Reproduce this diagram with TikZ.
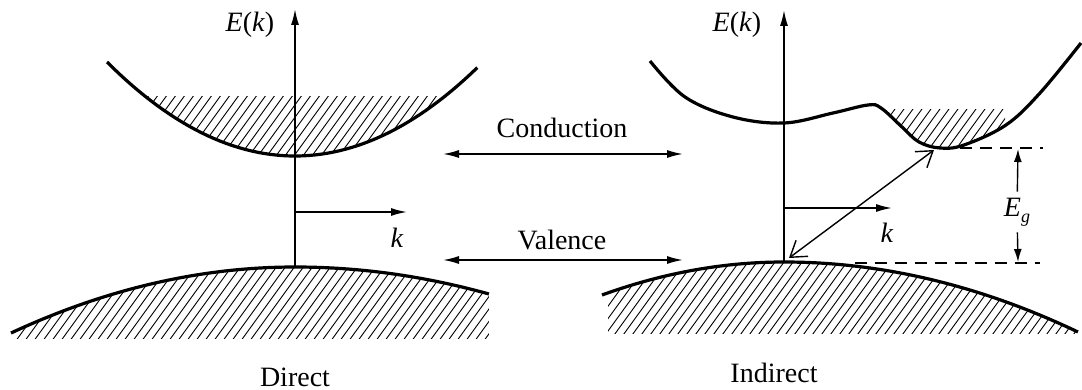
\documentclass[tikz,border=0pt]{standalone}
\usepackage{fontspec}
\setmainfont{Liberation Serif}
\usetikzlibrary{arrows.meta}
\newcommand\hatchlines{\foreach \i in {-40,...,125} \draw[hatch] ({\i*9},400) -- ({\i*9+290},0);}
\begin{document}
\begin{tikzpicture}[x=0.5pt,y=-0.5pt,
  band/.style={line width=1.6pt},
  axis/.style={line width=0.8pt,-{Latex[length=8pt,width=4pt]}},
  dbl/.style={line width=0.8pt,{Latex[length=8pt,width=4pt]}-{Latex[length=8pt,width=4pt]}},
  open/.style={line width=0.7pt,{Straight Barb[length=7.5pt,width=10pt]}-{Straight Barb[length=7.5pt,width=10pt]}},
  egarrow/.style={line width=0.7pt,-{Latex[length=6.5pt,width=4pt]}},
  guide/.style={line width=0.7pt,dash pattern=on 6pt off 4pt},
  hatch/.style={line width=0.45pt},
  lbl/.style={font=\fontsize{14}{16}\selectfont, inner sep=0pt},
  ]
\useasboundingbox (0,0) rectangle (1082,390);

% ---------- Direct: conduction band ----------
\begin{scope}
  \clip plot[domain=-1.2:1.2,samples=60] ({295+188*\x},{156-94*\x*\x}) -- (520,0) -- (70,0) -- cycle;
  \clip (140,97) rectangle (450,170);
  \hatchlines
\end{scope}
\draw[band] plot[domain=-1:0.97,samples=60] ({295+188*\x},{156-94*\x*\x});

% ---------- Direct: valence band ----------
\begin{scope}
  \clip plot[domain=-1:0,samples=40] ({295+284*\x},{267+66*\x*\x}) -- plot[domain=0:1,samples=30] ({295+194*\x},{267+27*\x*\x}) -- (489,400) -- (11,400) -- cycle;
  \clip (15,0) rectangle (489,338);
  \hatchlines
\end{scope}
\draw[band] plot[domain=-1:0,samples=40] ({295+284*\x},{267+66*\x*\x}) -- plot[domain=0:1,samples=30] ({295+194*\x},{267+27*\x*\x});

% ---------- Indirect: conduction band ----------
\begin{scope}
  \clip plot[smooth,tension=0.6] coordinates {(650,61) (685,97) (733,117) (784,123) (833,113) (868,105) (881,108) (902,127) (919,142) (940,148) (964,145) (1006,125) (1040,93) (1081,43)} -- (1082,0) -- (650,0) -- cycle;
  \clip (888,110) rectangle (1005,160);
  \hatchlines
\end{scope}
\draw[band] plot[smooth,tension=0.6] coordinates {(650,61) (685,97) (733,117) (784,123) (833,113) (868,105) (881,108) (902,127) (919,142) (940,148) (964,145) (1006,125) (1040,93) (1081,43)};

% ---------- Indirect: valence band ----------
\begin{scope}
  \clip plot[domain=-1:0,samples=40] ({784+182*\x},{262+33*\x*\x}) -- plot[domain=0:1,samples=40] ({784+294*\x},{262+70*\x*\x}) -- (1078,400) -- (602,400) -- cycle;
  \clip (608,0) rectangle (1076,333);
  \hatchlines
\end{scope}
\draw[band] plot[domain=-1:0,samples=40] ({784+182*\x},{262+33*\x*\x}) -- plot[domain=0:1,samples=40] ({784+294*\x},{262+70*\x*\x});

% ---------- coordinates ----------
\coordinate (LB) at (295,267);
\coordinate (LT) at (295,9);
\coordinate (LK0) at (295,212);
\coordinate (LK1) at (407,212);
\coordinate (RB) at (784,262);
\coordinate (RT) at (784,10);
\coordinate (RK0) at (784,208);
\coordinate (RK1) at (892,208);
\coordinate (CA) at (443,154);
\coordinate (CB) at (683,154);
\coordinate (VA) at (443,260);
\coordinate (VB) at (683,260);
\coordinate (Cmin) at (940,148);
\coordinate (Cend) at (1043,148);
\coordinate (Vtop) at (855,263);
\coordinate (Vend) at (1040,263);
\coordinate (EgT) at (1018,149);
\coordinate (EgB) at (1018,262);
\coordinate (D0) at (789,258);
\coordinate (D1) at (934,150);

% ---------- axes ----------
\draw[axis] (LB) -- (LT);
\draw[axis] (LK0) -- (LK1);
\draw[axis] (RB) -- (RT);
\draw[axis] (RK0) -- (RK1);

% ---------- middle arrows ----------
\draw[dbl] (CA) -- (CB);
\draw[dbl] (VA) -- (VB);

% ---------- gap markers ----------
\draw[guide] (Cmin) -- (Cend);
\draw[guide] (Vtop) -- (Vend);
\node[lbl,inner sep=3pt] (Eg) at (1017,212) {\textit{E}\raisebox{-0.45ex}{\fontsize{9}{9}\selectfont\textit{g}}};
\draw[egarrow] (Eg) -- (EgT);
\draw[egarrow] (Eg) -- (EgB);
\draw[open] (D0) -- (D1);

% ---------- labels ----------
\node[lbl] (EkL) at (250,25) {\textit{E}(\textit{k})};
\node[lbl] (EkR) at (737,25) {\textit{E}(\textit{k})};
\node[lbl] (kL) at (397,238) {\textit{k}};
\node[lbl] (kR) at (887,233) {\textit{k}};
\node[lbl] (cond) at (562,128) {Conduction};
\node[lbl] (val) at (562,240) {Valence};
\node[lbl] (dir) at (295,377) {Direct};
\node[lbl] (ind) at (774,373) {Indirect};
\end{tikzpicture}
\end{document}
